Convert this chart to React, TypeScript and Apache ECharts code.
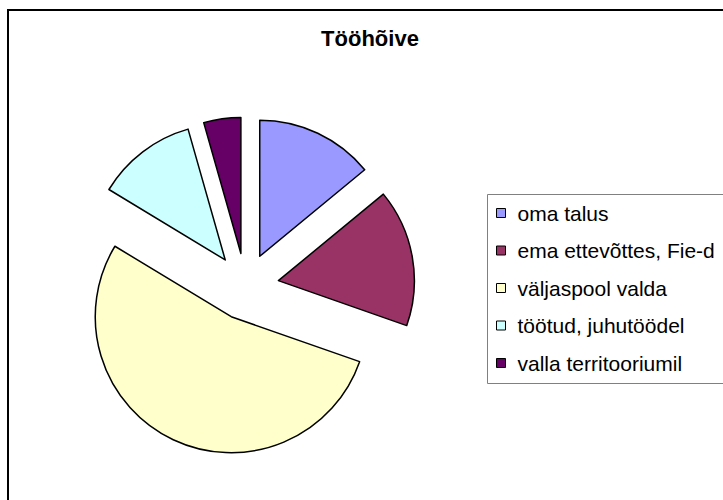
import React, { useEffect, useRef } from "react";
import * as echarts from "echarts";

const titleText = "Tööhõive";
const categories = [
  "oma talus",
  "ema ettevõttes, Fie-d",
  "väljaspool valda",
  "töötud, juhutöödel",
  "valla territooriumil",
];
const values = [14.0, 16.3, 53.2, 11.9, 4.4];
const colors = ["#9999FF", "#993366", "#FFFFCC", "#CCFFFF", "#660066"];

export default function App() {
  const ref = useRef<HTMLDivElement>(null);
  useEffect(() => {
    if (!ref.current) return;
    const chart = echarts.init(ref.current, null, { renderer: "svg" });
    const font = "'Liberation Sans', Arial, sans-serif";
    chart.setOption({
      animation: false,
      backgroundColor: "#ffffff",
      graphic: [
        {
          type: "rect",
          shape: { x: 8, y: 10, width: 1000, height: 1000 },
          style: { fill: "none", stroke: "#000", lineWidth: 2 },
          silent: true,
          z: 0,
        },
        {
          type: "rect",
          shape: { x: 487.5, y: 194.5, width: 400, height: 189 },
          style: { fill: "none", stroke: "#808080", lineWidth: 1 },
          silent: true,
          z: 0,
        },
        {
          type: "text",
          x: 370,
          y: 38,
          style: {
            text: titleText,
            font: `bold 22px ${font}`,
            fill: "#000",
            textAlign: "center",
            textVerticalAlign: "middle",
          },
          z: 10,
        },
      ],
      legend: {
        orient: "vertical",
        left: 496,
        top: 202,
        padding: 0,
        itemWidth: 9,
        itemHeight: 9,
        itemGap: 15.5,
        icon: "rect",
        itemStyle: { borderColor: "#000", borderWidth: 1 },
        textStyle: {
          fontFamily: font,
          fontSize: 21,
          color: "#000",
          lineHeight: 22,
          padding: [0, 0, 0, 7],
        },
        data: categories,
        selectedMode: false,
      },
      series: [
        {
          type: "pie",
          center: [245.5, 286.5],
          radius: 136,
          startAngle: 90,
          clockwise: true,
          selectedMode: "multiple",
          selectedOffset: 33.4,
          label: { show: false },
          labelLine: { show: false },
          emphasis: { disabled: true, scale: false },
          itemStyle: { borderColor: "#000", borderWidth: 1.5 },
          data: categories.map((name, i) => ({
            name,
            value: values[i],
            selected: true,
            itemStyle: { color: colors[i], borderColor: "#000", borderWidth: 1.5 },
            select: {
              itemStyle: { color: colors[i], borderColor: "#000", borderWidth: 1.5 },
            },
          })),
        },
      ],
    });
    return () => chart.dispose();
  }, []);
  return (
    <div
      ref={ref}
      style={{ position: "fixed", left: 0, top: 0, width: 723, height: 500 }}
    />
  );
}
